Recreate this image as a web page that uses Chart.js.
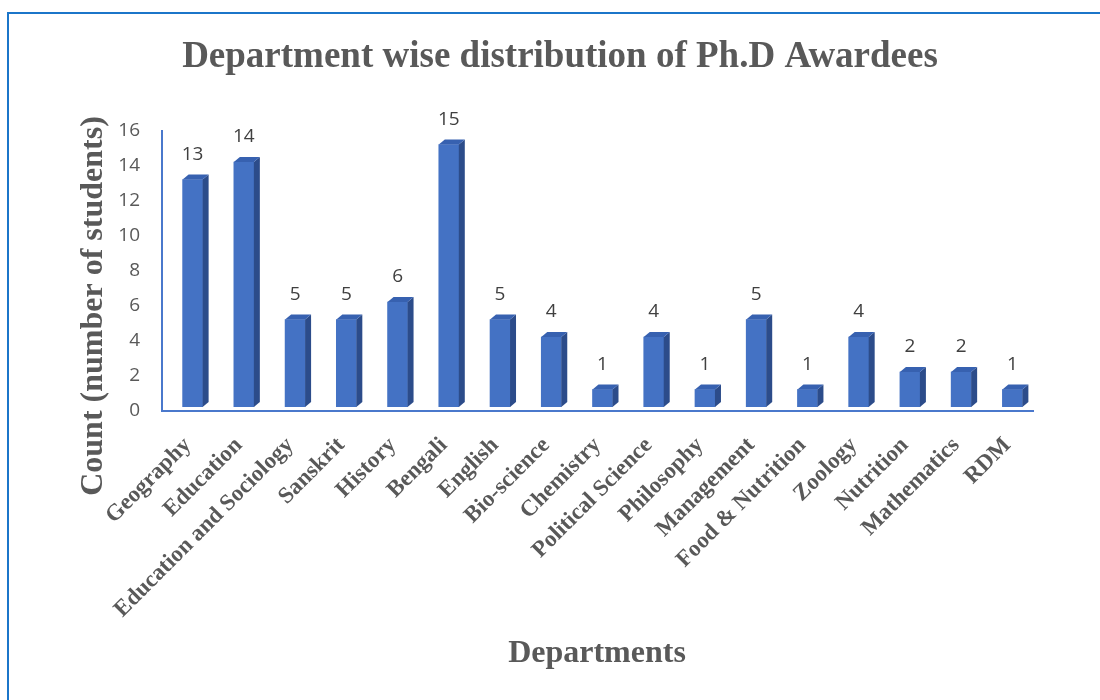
<!DOCTYPE html>
<html>
<head>
<meta charset="utf-8">
<title>Department wise distribution of Ph.D Awardees</title>
<script src="https://cdn.jsdelivr.net/npm/chart.js@4.4.1/dist/chart.umd.min.js"></script>
<style>
  html, body { margin: 0; padding: 0; background: #ffffff; }
  canvas { display: block; }
</style>
</head>
<body>
<canvas id="chart" width="1100" height="700"></canvas>
<script>
// Departments and number of Ph.D awardees in each
const categories = [
  'Geography', 'Education', 'Education and Sociology', 'Sanskrit', 'History',
  'Bengali', 'English', 'Bio-science', 'Chemistry', 'Political Science',
  'Philosophy', 'Management', 'Food & Nutrition', 'Zoology', 'Nutrition',
  'Mathematics', 'RDM'
];
const counts = [13, 14, 5, 5, 6, 15, 5, 4, 1, 4, 1, 5, 1, 4, 2, 2, 1];

// Value axis range and tick spacing
const yMin = 0;
const yMax = 16;
const yStep = 2;

const chartTitle = 'Department wise distribution of Ph.D Awardees';
const xTitle = 'Departments';
const yTitle = 'Count (number of students)';

const SERIF = '"Liberation Serif", "Times New Roman", serif';
const SANS = '"Open Sans", "Noto Sans", sans-serif';
const TEXT_GREY = '#595959';

// Pseudo-3D column geometry
const DEPTH_X = 6;
const DEPTH_Y = 5;
const SHIFT_X = 5;
const SHIFT_Y = -4;

// White background plus the blue frame along the top and left edges
const framePlugin = {
  id: 'frame',
  beforeDraw(chart) {
    const ctx = chart.ctx;
    ctx.save();
    ctx.fillStyle = '#ffffff';
    ctx.fillRect(0, 0, chart.width, chart.height);
    ctx.strokeStyle = '#1B75C9';
    ctx.lineWidth = 2;
    ctx.beginPath();
    ctx.moveTo(8, chart.height);
    ctx.lineTo(8, 13);
    ctx.lineTo(chart.width, 13);
    ctx.stroke();
    ctx.restore();
  }
};

// Gives each column a side and a top face, and writes its value above it
const columns3dPlugin = {
  id: 'columns3d',
  beforeDatasetsDraw(chart) {
    chart.ctx.save();
    chart.ctx.translate(SHIFT_X, SHIFT_Y);
  },
  afterDatasetsDraw(chart) {
    const ctx = chart.ctx;
    const meta = chart.getDatasetMeta(0);
    meta.data.forEach((bar, i) => {
      const { x, y, base, width } = bar.getProps(['x', 'y', 'base', 'width'], true);
      const x0 = x - width / 2;
      const x1 = x + width / 2;

      // right side face
      ctx.fillStyle = '#2C4C8A';
      ctx.beginPath();
      ctx.moveTo(x1, y);
      ctx.lineTo(x1 + DEPTH_X, y - DEPTH_Y);
      ctx.lineTo(x1 + DEPTH_X, base - DEPTH_Y);
      ctx.lineTo(x1, base);
      ctx.closePath();
      ctx.fill();

      // top face
      ctx.fillStyle = '#3761B0';
      ctx.beginPath();
      ctx.moveTo(x0, y);
      ctx.lineTo(x1, y);
      ctx.lineTo(x1 + DEPTH_X, y - DEPTH_Y);
      ctx.lineTo(x0 + DEPTH_X, y - DEPTH_Y);
      ctx.closePath();
      ctx.fill();

      // value label
      ctx.fillStyle = '#404040';
      ctx.font = '19px ' + SANS;
      ctx.textAlign = 'center';
      ctx.textBaseline = 'middle';
      ctx.fillText(String(counts[i]), x, y - 25);
    });
    ctx.restore();
  }
};

// Chart title and both axis titles
const titlesPlugin = {
  id: 'titles',
  afterDraw(chart) {
    const ctx = chart.ctx;
    ctx.save();
    ctx.fillStyle = TEXT_GREY;
    ctx.textAlign = 'center';
    ctx.textBaseline = 'alphabetic';

    ctx.font = 'bold 37px ' + SERIF;
    ctx.fillText(chartTitle, 560, 67);

    ctx.font = 'bold 32px ' + SERIF;
    ctx.fillText(xTitle, 597, 662);

    ctx.translate(102, 306);
    ctx.rotate(-Math.PI / 2);
    ctx.font = 'bold 32px ' + SERIF;
    ctx.fillText(yTitle, 0, 0);
    ctx.restore();
  }
};

new Chart(document.getElementById('chart'), {
  type: 'bar',
  data: {
    labels: categories,
    datasets: [{
      label: 'Count',
      data: counts,
      backgroundColor: '#4472C4',
      borderWidth: 0,
      barThickness: 20
    }]
  },
  options: {
    responsive: false,
    animation: false,
    devicePixelRatio: 1,
    layout: { padding: { top: 131, right: 67, left: 0, bottom: 0 } },
    plugins: {
      legend: { display: false },
      title: { display: false },
      tooltip: { enabled: false }
    },
    scales: {
      x: {
        grid: { display: false },
        border: { display: true, color: '#4A78CC', width: 2 },
        ticks: {
          color: TEXT_GREY,
          font: { family: SERIF, size: 23, weight: 'bold' },
          minRotation: 45,
          maxRotation: 45,
          autoSkip: false,
          padding: 13
        },
        afterFit(scale) { scale.height = 289; }
      },
      y: {
        min: yMin,
        max: yMax,
        grid: { display: false },
        border: { display: true, color: '#4A78CC', width: 2 },
        ticks: {
          stepSize: yStep,
          color: TEXT_GREY,
          font: { family: SANS, size: 19 },
          padding: 14
        },
        afterFit(scale) { scale.width = 162; }
      }
    }
  },
  plugins: [framePlugin, columns3dPlugin, titlesPlugin]
});
</script>
</body>
</html>
